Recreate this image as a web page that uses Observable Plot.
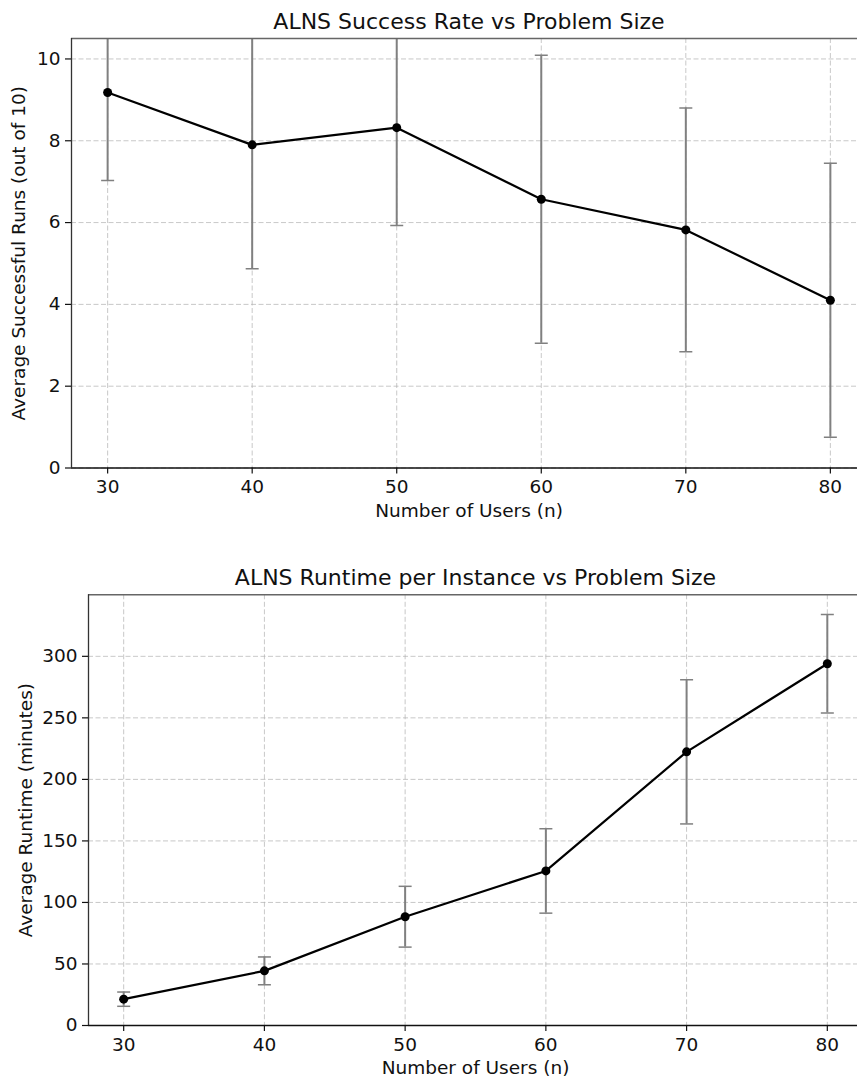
<!DOCTYPE html>
<html>
<head>
<meta charset="utf-8">
<script src="https://cdn.jsdelivr.net/npm/d3@7"></script>
<script src="https://cdn.jsdelivr.net/npm/@observablehq/plot@0.6"></script>
<style>
  html, body { margin: 0; padding: 0; background: #fff; }
  #chart svg { display: block; }
</style>
</head>
<body>
<div id="chart"></div>
<script>
const users = [30, 40, 50, 60, 70, 80];
const success = [9.18, 7.9, 8.32, 6.57, 5.82, 4.1];
const successStd = [2.15, 3.03, 2.39, 3.52, 2.98, 3.35];
const runtime = [21.4, 44.4, 88.4, 125.6, 222.4, 294.0];
const runtimeStd = [5.8, 11.3, 24.7, 34.3, 58.6, 40.0];

const xTicks = [30, 40, 50, 60, 70, 80];
const successTicks = [0, 2, 4, 6, 8, 10];
const runtimeTicks = [0, 50, 100, 150, 200, 250, 300];

const FONT = "DejaVu Sans";
const capSymbol = {
  draw(ctx) { ctx.moveTo(-6.5, 0); ctx.lineTo(6.5, 0); }
};

function makeChart({values, stds, yTicks, yDomain, title, yLabel,
                    height, marginTop, marginBottom, marginLeft, marginRight,
                    yLabelDx}) {
  const data = users.map((u, i) => ({x: u, y: values[i], lo: values[i] - stds[i], hi: values[i] + stds[i]}));
  const caps = data.flatMap(d => [{x: d.x, y: d.lo}, {x: d.x, y: d.hi}]);
  const xDomain = [27.5, 82.5];
  return Plot.plot({
    width: 857,
    height,
    marginTop, marginBottom, marginLeft, marginRight,
    style: {fontFamily: FONT, color: "#111", background: "#fff", overflow: "visible"},
    x: {domain: xDomain},
    y: {domain: yDomain},
    marks: [
      Plot.gridX(xTicks, {stroke: "#b0b0b0", strokeOpacity: 0.7, strokeDasharray: "5,2.5", strokeWidth: 1}),
      Plot.gridY(yTicks, {stroke: "#b0b0b0", strokeOpacity: 0.7, strokeDasharray: "5,2.5", strokeWidth: 1}),
      Plot.ruleX(data, {x: "x", y1: "lo", y2: "hi", stroke: "#808080", strokeWidth: 2, clip: true}),
      Plot.dot(caps, {x: "x", y: "y", symbol: capSymbol, stroke: "#808080", strokeWidth: 1.5, fill: "none", clip: true}),
      Plot.line(data, {x: "x", y: "y", stroke: "#000", strokeWidth: 2.2}),
      Plot.dot(data, {x: "x", y: "y", r: 4.5, fill: "#000"}),
      Plot.ruleY([yDomain[1]], {stroke: "#666", strokeWidth: 1.4}),
      Plot.ruleX([xDomain[0]], {stroke: "#333", strokeWidth: 1.3}),
      Plot.ruleY([yDomain[0]], {stroke: "#111", strokeWidth: 1.4}),
      Plot.axisX(xTicks, {tickSize: 6, tickPadding: 6, fontSize: 18.5, label: null, strokeWidth: 1.2, stroke: "#111"}),
      Plot.axisY(yTicks, {tickSize: 6, tickPadding: 5, fontSize: 18.5, label: null, strokeWidth: 1.2, stroke: "#111"}),
      Plot.text([title], {frameAnchor: "top", lineAnchor: "middle", dy: -17, fontSize: 22, fill: "#111"}),
      Plot.text(["Number of Users (n)"], {frameAnchor: "bottom", lineAnchor: "middle", dy: 43, fontSize: 18.5, fill: "#111"}),
      Plot.text([yLabel], {frameAnchor: "left", textAnchor: "middle", lineAnchor: "middle", dx: yLabelDx, rotate: -90, fontSize: 18.5, fill: "#111"})
    ]
  });
}

const chart = document.getElementById("chart");
chart.appendChild(makeChart({
  values: success, stds: successStd, yTicks: successTicks, yDomain: [0, 10.5],
  title: "ALNS Success Rate vs Problem Size",
  yLabel: "Average Successful Runs (out of 10)",
  height: 545, marginTop: 38, marginBottom: 77.5, marginLeft: 71, marginRight: -9,
  yLabelDx: -52
}));
chart.appendChild(makeChart({
  values: runtime, stds: runtimeStd, yTicks: runtimeTicks, yDomain: [0, 350],
  title: "ALNS Runtime per Instance vs Problem Size",
  yLabel: "Average Runtime (minutes)",
  height: 532, marginTop: 49.3, marginBottom: 52, marginLeft: 88, marginRight: -5,
  yLabelDx: -62
}));
</script>
</body>
</html>
